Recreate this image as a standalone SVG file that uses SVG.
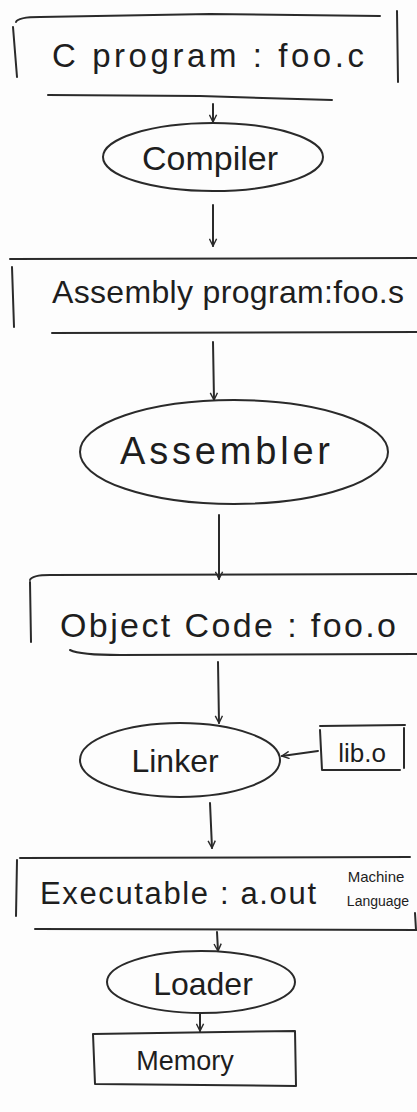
<svg xmlns="http://www.w3.org/2000/svg" width="417" height="1112" viewBox="0 0 417 1112">
<defs>
<style>
.ln{fill:none;stroke:#2a2a2a;stroke-width:2;stroke-linecap:round;stroke-linejoin:round}
.t{font-family:"Liberation Sans","DejaVu Sans",sans-serif;fill:#1e1e1e}
</style>
<marker id="ah" viewBox="0 0 10 10" refX="9" refY="5" markerWidth="9" markerHeight="9" orient="auto-start-reverse" markerUnits="userSpaceOnUse">
<path d="M1,1 L9,5 L1,9" fill="none" stroke="#2a2a2a" stroke-width="1.6"/>
</marker>
</defs>
<rect width="417" height="1112" fill="#fdfdfd"/>

<g id="c_program">
<path class="ln" d="M16,22 Q18,17 40,17 L210,14 L380,16 M13,27 L17,77 M397,11 L398,82 M48,95 L200,96 L332,100"/>
<text class="t" x="208" y="67" font-size="33" text-anchor="middle" textLength="312" lengthAdjust="spacing">C program : foo.c</text>
</g>

<g id="compiler">
<ellipse class="ln" cx="213" cy="157" rx="110" ry="34"/>
<text class="t" x="210" y="170" font-size="34" text-anchor="middle">Compiler</text>
</g>

<g id="assembly_program">
<path class="ln" d="M10,259 L417,258 M12,267 L14,327 M52,333 L417,332"/>
<text class="t" x="228" y="303" font-size="32" text-anchor="middle" textLength="352" lengthAdjust="spacing">Assembly program:foo.s</text>
</g>

<g id="assembler">
<ellipse class="ln" cx="234" cy="452" rx="154" ry="52"/>
<text class="t" x="225" y="464" font-size="38" text-anchor="middle" textLength="210" lengthAdjust="spacing">Assembler</text>
</g>

<g id="object_code">
<path class="ln" d="M30,580 Q32,575 50,575 L417,574 M30,582 L31,642 M70,650 Q80,655 120,655 L417,654"/>
<text class="t" x="228" y="637" font-size="34" text-anchor="middle" textLength="336" lengthAdjust="spacing">Object Code : foo.o</text>
</g>

<g id="linker">
<ellipse class="ln" cx="180" cy="760" rx="100" ry="37"/>
<text class="t" x="175" y="772" font-size="32" text-anchor="middle">Linker</text>
</g>

<g id="lib_o">
<path class="ln" d="M320,726 L405,725 M320,730 L322,770 M322,770 L400,770 M404,728 L404,768"/>
<text class="t" x="362" y="762" font-size="26" text-anchor="middle">lib.o</text>
</g>

<g id="executable">
<path class="ln" d="M20,858 L410,857 M17,860 L16,916 M35,929 L417,930 M415,913 L416,930"/>
<text class="t" x="178" y="904" font-size="31" text-anchor="middle" textLength="276" lengthAdjust="spacing">Executable : a.out</text>
<text class="t" x="376" y="882" font-size="15" text-anchor="middle">Machine</text>
<text class="t" x="378" y="906" font-size="14" text-anchor="middle">Language</text>
</g>

<g id="loader">
<ellipse class="ln" cx="201" cy="982" rx="94" ry="31"/>
<text class="t" x="203" y="995" font-size="32" text-anchor="middle">Loader</text>
</g>

<g id="memory">
<path class="ln" d="M93,1034 L295,1031 L296,1086 L95,1084 Z"/>
<text class="t" x="185" y="1070" font-size="27" text-anchor="middle">Memory</text>
</g>

<g id="connectors">
<path class="ln" d="M213,104 L213,122" marker-end="url(#ah)"/>
<path class="ln" d="M213,205 L213,246" marker-end="url(#ah)"/>
<path class="ln" d="M213,342 L214,400" marker-end="url(#ah)"/>
<path class="ln" d="M219,515 L219,579" marker-end="url(#ah)"/>
<path class="ln" d="M218,662 L219,723" marker-end="url(#ah)"/>
<path class="ln" d="M318,751 L282,756" marker-end="url(#ah)"/>
<path class="ln" d="M210,803 L212,848" marker-end="url(#ah)"/>
<path class="ln" d="M217,932 L218,951" marker-end="url(#ah)"/>
<path class="ln" d="M200,1014 L200,1031" marker-end="url(#ah)"/>
</g>
</svg>
